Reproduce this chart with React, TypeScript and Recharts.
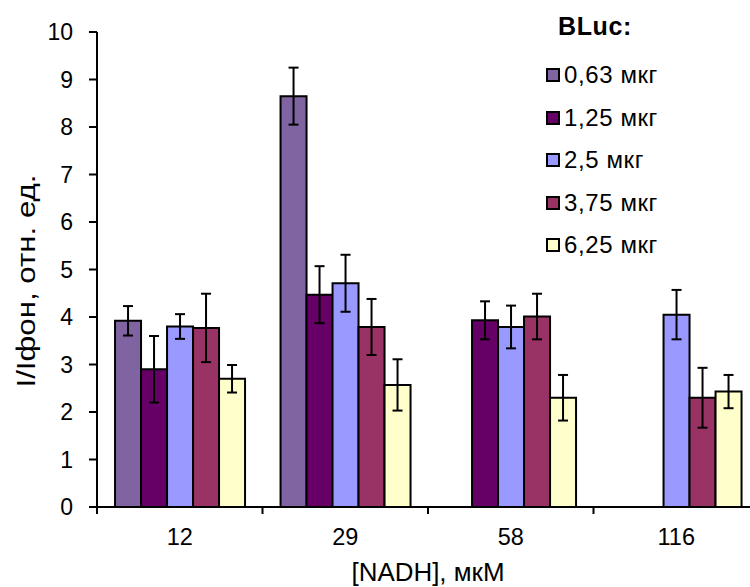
import React from 'react';
import { BarChart, Bar, XAxis, YAxis, ErrorBar, Legend, Label } from 'recharts';

const categories = ['12', '29', '58', '116'];
const seriesNames = ['0,63 мкг', '1,25 мкг', '2,5 мкг', '3,75 мкг', '6,25 мкг'];
const seriesColors = ['#8064A2', '#660066', '#9999FF', '#993366', '#FFFFCC'];
const v063 = [3.92, 8.65, null, null];
const e063 = [0.31, 0.6, null, null];
const v125 = [2.9, 4.47, 3.93, null];
const e125 = [0.7, 0.6, 0.4, null];
const v25 = [3.8, 4.71, 3.79, 4.05];
const e25 = [0.26, 0.6, 0.45, 0.52];
const v375 = [3.77, 3.79, 4.01, 2.3];
const e375 = [0.72, 0.59, 0.48, 0.63];
const v625 = [2.7, 2.57, 2.3, 2.43];
const e625 = [0.29, 0.54, 0.48, 0.35];
const yTicks = [0, 1, 2, 3, 4, 5, 6, 7, 8, 9, 10];
const legendTitle = 'BLuc:';
const xTitle = '[NADH], мкМ';
const yTitle = 'I/Iфон, отн. ед.';

const values = [v063, v125, v25, v375, v625];
const errors = [e063, e125, e25, e375, e625];

const data = categories.map((c, i) => {
  const row: any = { cat: c };
  values.forEach((arr, s) => {
    row['v' + s] = arr[i];
    row['e' + s] = errors[s][i];
  });
  return row;
});

const FONT = '"Liberation Sans", Arial, sans-serif';

const XTick = (props: any) => {
  const { x, y, payload } = props;
  const half = payload && payload.offset != null ? payload.offset : 0;
  return (
    <g>
      <line x1={x - half} x2={x - half} y1={y - 21} y2={y - 14} stroke="#000" strokeWidth={2} />
      <text x={x} y={y} dy="0.71em" textAnchor="middle" fill="#000" fontSize={23.5} fontFamily={FONT}>
        {payload.value}
      </text>
    </g>
  );
};

const LegendContent = () => (
  <div style={{ position: 'relative', width: 200, height: 270, fontFamily: FONT, color: '#000' }}>
    <div
      style={{
        position: 'absolute',
        left: 28,
        top: 14,
        fontSize: 25,
        lineHeight: '25px',
        fontWeight: 'bold',
        letterSpacing: 0.6,
      }}
    >
      {legendTitle}
    </div>
    {seriesNames.map((n, i) => (
      <div
        key={n}
        style={{
          position: 'absolute',
          left: 16,
          top: 63 + i * 42.5,
          height: 24,
          display: 'flex',
          alignItems: 'center',
          fontSize: 24,
          lineHeight: '24px',
          whiteSpace: 'nowrap',
          letterSpacing: 0.6,
        }}
      >
        <span
          style={{
            display: 'inline-block',
            width: 14,
            height: 14,
            boxSizing: 'border-box',
            border: '2px solid #000',
            background: seriesColors[i],
            marginRight: 4,
          }}
        />
        <span>{n}</span>
      </div>
    ))}
  </div>
);

export default function App() {
  return (
    <div style={{ position: 'absolute', left: 0, top: 0, width: 750, height: 587, overflow: 'hidden', background: '#fff' }}>
      <BarChart
        width={760}
        height={587}
        data={data}
        margin={{ top: 32, right: 1, left: 0, bottom: 0 }}
        barCategoryGap="10.9%"
        barGap={0}
        style={{ fontFamily: FONT }}
      >
        <XAxis
          dataKey="cat"
          height={80}
          axisLine={{ stroke: '#000', strokeWidth: 2 }}
          tickLine={false}
          tickSize={7}
          tickMargin={14}
          tick={<XTick />}
          interval={0}
        >
          <Label
            content={(p: any) => {
              const vb = p.viewBox || {};
              return (
                <text
                  x={vb.x + vb.width / 2}
                  y={vb.y + 74}
                  textAnchor="middle"
                  fill="#000"
                  fontSize={26}
                  fontFamily={FONT}
                  textLength={153}
                  lengthAdjust="spacingAndGlyphs"
                >
                  {xTitle}
                </text>
              );
            }}
          />
        </XAxis>
        <YAxis
          width={97}
          domain={[0, 10]}
          ticks={yTicks}
          interval={0}
          axisLine={{ stroke: '#000', strokeWidth: 2 }}
          tickLine={{ stroke: '#000', strokeWidth: 2 }}
          tickSize={8}
          tickMargin={16}
          tick={{ fill: '#000', fontSize: 23, fontFamily: FONT }}
        >
          <Label
            content={(p: any) => {
              const vb = p.viewBox || {};
              const cx = vb.x + 35;
              const cy = vb.y + vb.height / 2 + 11.5;
              return (
                <text
                  x={cx}
                  y={cy}
                  transform={`rotate(-90, ${cx}, ${cy})`}
                  textAnchor="middle"
                  fill="#000"
                  fontSize={26}
                  fontFamily={FONT}
                  textLength={213}
                  lengthAdjust="spacingAndGlyphs"
                >
                  {yTitle}
                </text>
              );
            }}
          />
        </YAxis>
        <Legend
          layout="horizontal"
          verticalAlign="middle"
          align="center"
          width={200}
          wrapperStyle={{ left: 530, top: 0, width: 200, height: 270 }}
          content={<LegendContent />}
        />
        {seriesNames.map((n, s) => (
          <Bar
            key={n}
            dataKey={'v' + s}
            name={n}
            fill={seriesColors[s]}
            stroke="#000"
            strokeWidth={2}
            isAnimationActive={false}
          >
            <ErrorBar dataKey={'e' + s} width={5} stroke="#000" strokeWidth={2} direction="y" />
          </Bar>
        ))}
      </BarChart>
    </div>
  );
}
